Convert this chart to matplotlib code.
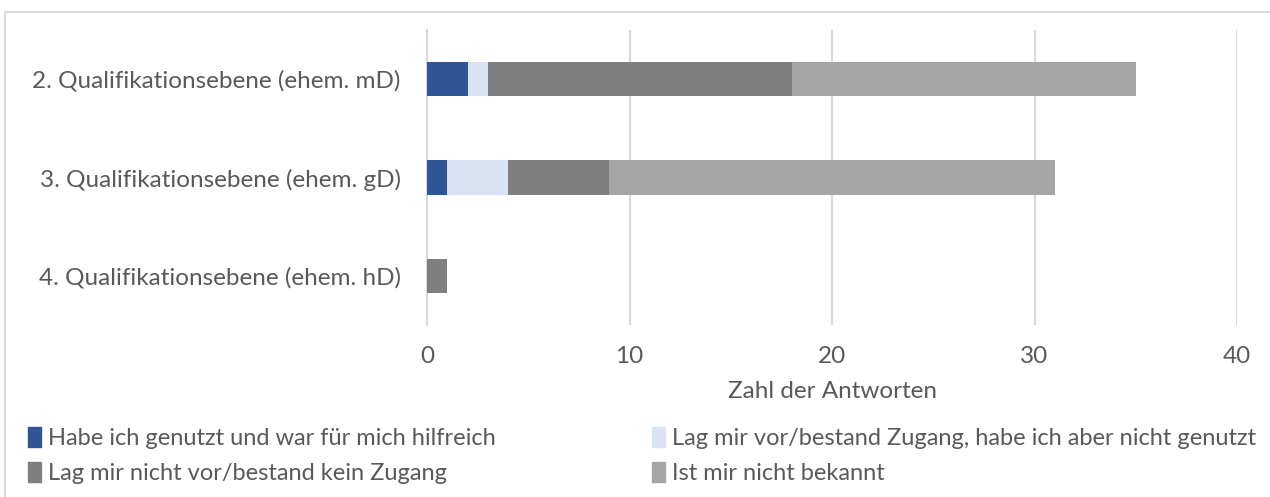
import matplotlib
matplotlib.use("Agg")
import matplotlib.pyplot as plt
from matplotlib.patches import Rectangle, Patch

categories = ["2. Qualifikationsebene (ehem. mD)",
              "3. Qualifikationsebene (ehem. gD)",
              "4. Qualifikationsebene (ehem. hD)"]
series_names = ["Habe ich genutzt und war für mich hilfreich",
                "Lag mir vor/bestand Zugang, habe ich aber nicht genutzt",
                "Lag mir nicht vor/bestand kein Zugang",
                "Ist mir nicht bekannt"]
values = [
    [2, 1, 0],
    [1, 3, 0],
    [15, 5, 1],
    [17, 22, 0],
]
colors = ["#2F5597", "#DAE3F3", "#7F7F7F", "#A5A5A5"]
xticks = [0, 10, 20, 30, 40]

plt.rcParams['font.family'] = ['Lato', 'DejaVu Sans']
txt = "#595959"
fs = 17.5

W, H = 1270, 497
fig = plt.figure(figsize=(W/100, H/100), dpi=100)
ax = fig.add_axes([427/W, 1-325/H, (1237-427)/W, (325-30)/H])

ypos = list(range(len(categories)))
left = [0]*len(categories)
for name, vals, c in zip(series_names, values, colors):
    ax.barh(ypos, vals, left=left, height=0.35, color=c, label=name, zorder=3)
    left = [l+v for l, v in zip(left, vals)]

ax.set_ylim(2.5, -0.5)
ax.set_xlim(0, 40)
ax.set_xticks(xticks)
ax.set_xticklabels([str(t) for t in xticks])
ax.set_yticks(ypos)
ax.set_yticklabels(categories)
ax.grid(axis='x', color="#D9D9D9", linewidth=1.5, zorder=0)
for s in ['top', 'right', 'bottom']:
    ax.spines[s].set_visible(False)
ax.spines['left'].set_color("#D9D9D9")
ax.spines['left'].set_linewidth(1.5)
ax.tick_params(axis='both', length=0, labelsize=fs, colors=txt)
ax.tick_params(axis='y', pad=19)
ax.tick_params(axis='x', pad=15)
ax.set_xlabel("Zahl der Antworten", fontsize=fs, color=txt, labelpad=10)

handles = [Patch(color=c) for c in colors]
order = [0, 2, 1, 3]
fig.legend([handles[i] for i in order], [series_names[i] for i in order],
           ncol=2, loc='upper left', bbox_to_anchor=(28/W, 1-427/H),
           frameon=False, fontsize=17, labelcolor=txt,
           handlelength=0.55, handleheight=0.9, handletextpad=0.3,
           columnspacing=6.6, labelspacing=0.56, borderaxespad=0, borderpad=0)

fig.add_artist(Rectangle((5/W, -0.1), 1.2, 1-12/H+0.1, transform=fig.transFigure,
                         fill=False, edgecolor="#D9D9D9", linewidth=1.5))

fig.savefig("out.png", dpi=100)
